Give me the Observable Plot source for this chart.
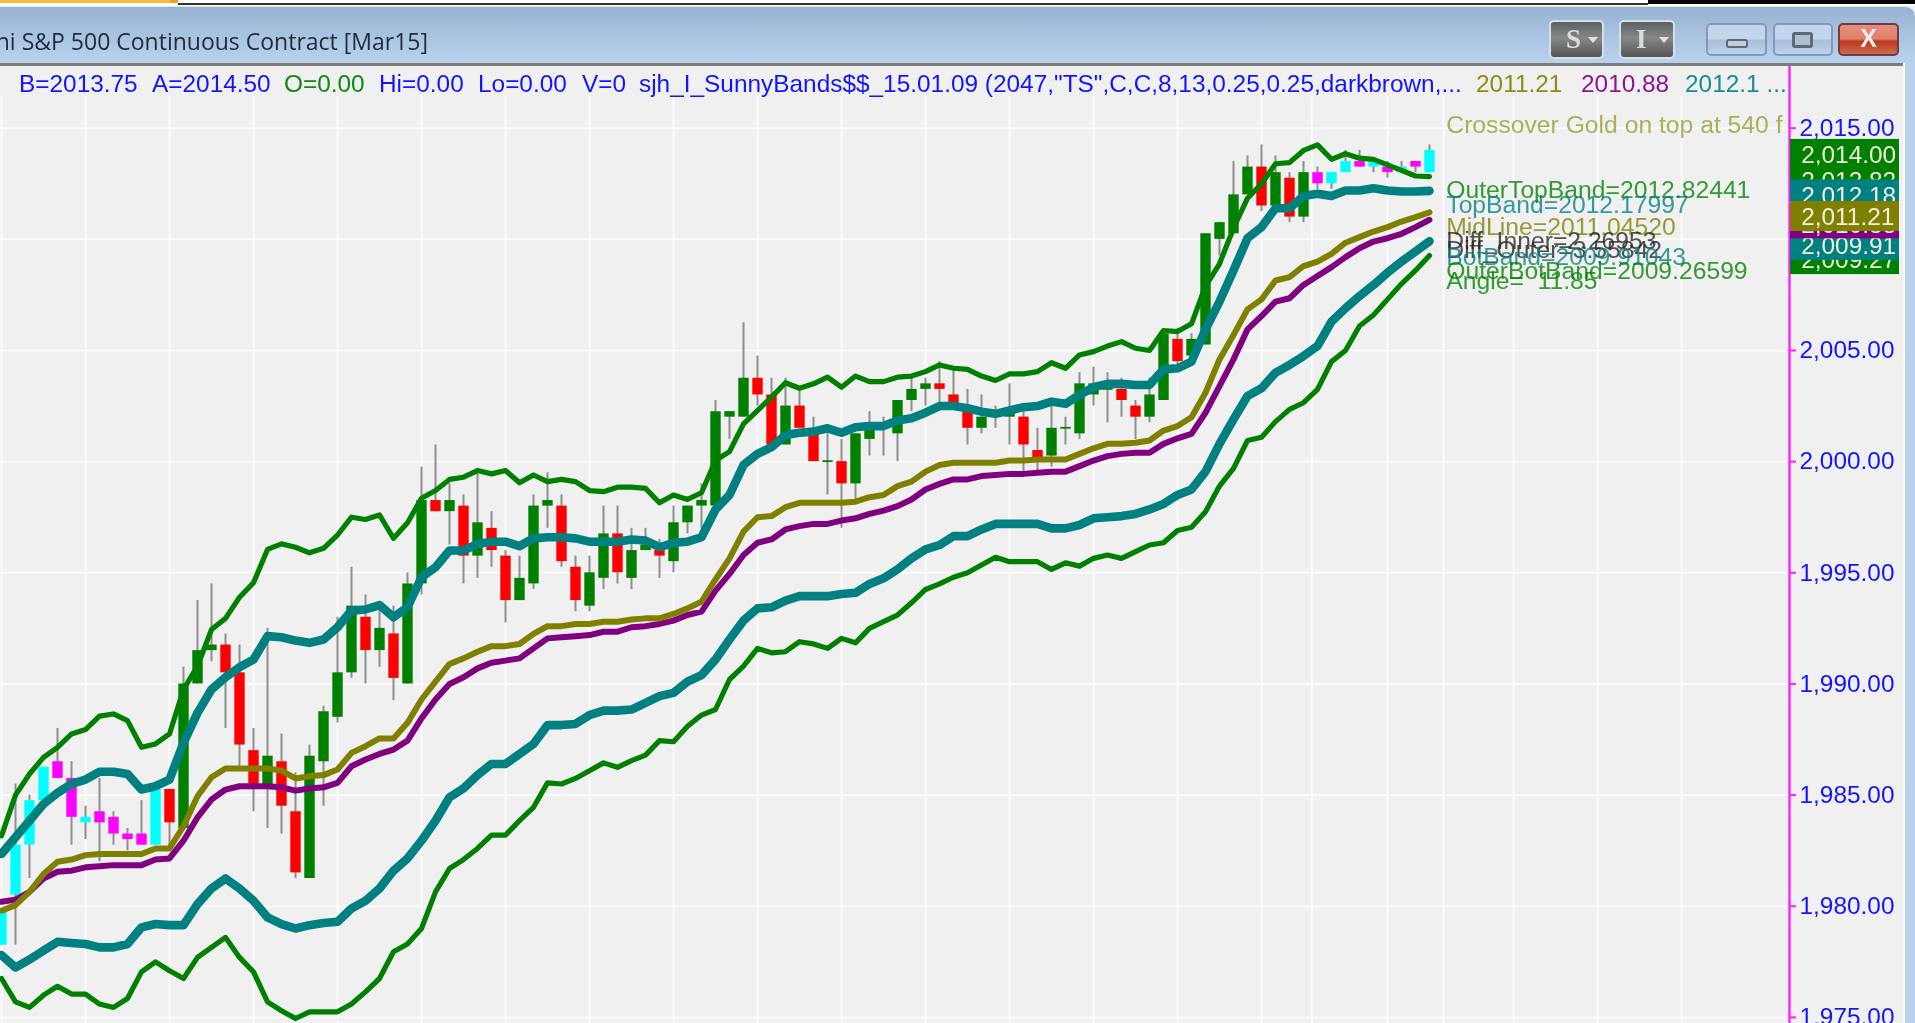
<!DOCTYPE html>
<html>
<head>
<meta charset="utf-8">
<script src="https://cdn.jsdelivr.net/npm/d3@7"></script>
<script src="https://cdn.jsdelivr.net/npm/@observablehq/plot@0.6"></script>
<style>
html,body{margin:0;padding:0;width:1915px;height:1023px;overflow:hidden;background:#f0f0f0;font-family:"Liberation Sans",Arial,sans-serif}
#stage{position:relative;width:1915px;height:1023px;overflow:hidden;filter:blur(.6px)}
#chart{position:absolute;left:0;top:0}
.abs{position:absolute}
#titlebar{position:absolute;left:0;top:6px;width:1915px;height:57px;background:linear-gradient(#98b3d2,#b9d3ed);border-top:1px solid #dfe7ef;box-sizing:border-box;border-top-right-radius:10px}
#titletext{position:absolute;right:1487px;top:25px;white-space:nowrap;font:23px "Open Sans",sans-serif;color:#1d2b3a}
.hdr{position:absolute;top:70px;font-size:24.4px;line-height:28px;white-space:nowrap}
.btn{position:absolute;box-sizing:border-box;border-radius:5px}
.dark{top:20px;height:39px;border:2px solid #d5dfe9;background:linear-gradient(#5d6060,#858887 45%,#555857);color:#d9dcdc;font:bold 27px "Liberation Serif",serif;text-align:left;line-height:34px;padding-left:15px}
.tri{position:absolute;top:15px;width:0;height:0;border-left:5px solid transparent;border-right:5px solid transparent;border-top:6px solid #e0e2e2}
.win{top:23px;height:33px;border:2px solid #7f9abb;background:linear-gradient(#c3d6eb,#c3d6eb 48%,#a5bfda 52%,#bdd3ea)}
</style>
</head>
<body>
<div id="stage"><div id="chart"></div></div>
<script>
// Bar index of the vertical grid lines (the time axis)
const gridBars = [0,6,12,18,24,30,36,42,48,54,60,66,72,78,84,90,93.6,99,103,108,114,120];
const priceTicks = [2015,2010,2005,2000,1995,1990,1985,1980,1975];

// Candles, one entry per bar
const bodyTop = [1979.75,1982.75,1984.75,1986.25,1986.5,1985.75,1984,1984.25,1984,1983.25,1983.25,1985.25,1985.25,1990,1991.5,1991.75,1991.75,1990.5,1987,1986.75,1986.5,1984.25,1986.75,1988.75,1990.5,1993.5,1993,1992.5,1992.25,1994.5,1998.25,1998.25,1998.25,1998,1997.25,1997,1995.75,1994.75,1998,1998.25,1998,1995.25,1995,1996.75,1996.75,1996,1996.25,1996,1997.25,1998,1998.25,2002.25,2002.25,2003.75,2003.75,2003,2002.5,2002.5,2001.25,2000.04,2000,2001.25,2001.5,2001.64,2002.75,2003.25,2003.5,2003.5,2003,2002.25,2002,2002.25,2002.25,2002,2000.5,2001.5,2001.54,2003.5,2003.5,2003.29,2003.25,2002.5,2003,2005.75,2005.5,2005.5,2010.25,2010.75,2012,2013.25,2013.25,2013,2012.75,2013,2013,2013,2013.5,2013.5,2013.5,2013.25,2013.25,2013.5,2014];
const bodyBottom = [1978.25,1980.5,1982.75,1984.75,1985.75,1984,1983.75,1983.75,1983.25,1983,1982.75,1982.75,1983.75,1983.5,1990,1991.5,1990.5,1987.25,1985.25,1985.25,1984.5,1981.5,1981.25,1986.5,1988.5,1990.5,1991.5,1991.5,1990.25,1990,1994.5,1997.75,1997.75,1995.75,1995.75,1996,1993.75,1993.75,1994.5,1998,1995.5,1993.75,1993.5,1994.75,1995,1994.75,1996,1995.75,1995.5,1997.25,1998,1998,2002,2002,2003,2000.75,2000.75,2001.5,2000,1999.96,1999,1999,2001,2001.56,2001.25,2002.75,2003.25,2003.25,2002.5,2001.5,2001.5,2002,2002,2000.75,2000,2000.25,2001.46,2001.25,2003,2003.21,2002.75,2002,2002,2002.75,2004.5,2004.75,2005.25,2010,2010.25,2012,2011.5,2011.5,2011,2011,2012.5,2012.5,2013,2013.25,2013.25,2013,2013,2013.25,2013];
const wickHigh = [1979.75,1985.5,1985,1986.25,1988,1986.5,1984.5,1985.75,1984.25,1983.5,1984.75,1985.25,1985.25,1990.75,1993.75,1994.5,1992.25,1991.75,1988,1992.5,1987.75,1986,1987.25,1989,1993,1995.25,1994,1993.5,1993.5,1995,1999.75,2000.75,1999,1998.5,1999.5,1997.75,1996,1995.75,1998.5,1999.5,1998.5,1995.75,1995.75,1998,1998,1997,1997,1996.5,1998,1998,1999,2002.75,2002.25,2006.25,2004.75,2003.75,2003.75,2003.25,2002,2001.25,2001,2001.25,2002.25,2002,2002.75,2003.75,2003.75,2004.5,2004.25,2003.25,2003,2002.5,2003.5,2002.25,2001.5,2002.5,2002,2004,2004.25,2004,2003.75,2002.75,2003.75,2005.75,2006,2005.75,2010.25,2010.75,2013.5,2013.75,2014.25,2013.75,2013,2013.5,2013.25,2013,2014,2014,2013.5,2013.5,2013.5,2013.5,2014.25];
const wickLow = [1978.25,1978.25,1981.25,1984.75,1985.75,1982.75,1983,1982,1982.75,1982.5,1982.75,1982.75,1982.5,1983.5,1990,1991,1988,1986.25,1984.25,1983.5,1983.25,1981.25,1981.25,1984.5,1988.25,1990.25,1990,1990.75,1989.25,1990,1994,1997.75,1996.25,1994.5,1994.75,1995.25,1992.75,1993.75,1994.25,1997,1995.25,1993.25,1993.25,1994.25,1994.5,1994.25,1996,1994.75,1995,1996.75,1997,1998,2001,2002,2002.5,2000.75,2000.75,2001.5,2000,1998.5,1997,1998.25,2000.25,2000.25,2000,2002.25,2002.5,2002.5,2002.5,2000.75,2001.25,2001.5,2000.75,1999.5,1999.5,1999.75,2000.75,2001,2002.5,2001.75,2002,2001,2001.75,2002.75,2004.25,2004.75,2005.25,2009.25,2010.25,2012,2011.25,2011.5,2010.75,2010.75,2012.25,2012.25,2013,2013.25,2013,2012.75,2013,2013,2013];
const candleKind = "cccc"+"mm"+"c"+"mmmm"+"c"+"r"+"ggg"+"rrr"+"g"+"rr"+"gggg"+"r"+"g"+"r"+"gg"+"r"+"g"+"r"+"g"+"rr"+"ggg"+"rr"+"gg"+"r"+"gg"+"r"+"gggggg"+"rr"+"g"+"rr"+"g"+"r"+"gggggg"+"rrr"+"ggg"+"rr"+"ggggg"+"rr"+"gg"+"r"+"ggggg"+"r"+"g"+"r"+"g"+"mccmcmcmc";

// Band lines, one entry per bar
const outerTopBand = [1983.17,1985,1985.95,1986.7,1987.15,1987.75,1987.95,1988.55,1988.65,1988.35,1987.15,1987.3,1987.75,1989.75,1990.8,1992.45,1992.95,1993.9,1994.55,1996.05,1996.3,1996.15,1995.9,1996.1,1996.7,1997.5,1997.4,1997.6,1996.55,1997.25,1998.35,1998.7,1999.2,1999.3,1999.6,1999.45,1999.6,1999.05,1999.4,1999.1,1999.2,1999.1,1998.7,1998.65,1998.85,1998.85,1998.8,1998.15,1998.5,1998.3,1998.6,2000.05,2000.45,2001.7,2002.3,2002.9,2003.55,2003.3,2003.5,2003.8,2003.35,2003.85,2003.6,2003.6,2003.8,2003.85,2004.05,2004.35,2004.2,2004.15,2003.85,2003.65,2003.95,2003.95,2004.05,2004.45,2004.2,2004.8,2004.95,2005.2,2005.4,2005.1,2005,2005.9,2005.85,2006.2,2007.9,2008.9,2010.5,2011.85,2012.5,2013.4,2013.45,2014,2014.25,2013.6,2013.85,2013.65,2013.6,2013.35,2013.1,2012.85,2012.82];
const topBand = [1982.35,1983.1,1983.85,1984.6,1985.1,1985.5,1985.7,1986.05,1986.05,1985.95,1985.25,1985.4,1985.7,1987.35,1988.7,1989.75,1990.3,1990.75,1991.1,1992.15,1992.1,1991.95,1991.85,1992,1992.55,1993.3,1993.35,1993.55,1993,1993.45,1994.8,1995.25,1996,1996,1996.3,1996.4,1996.4,1996.2,1996.55,1996.6,1996.6,1996.55,1996.4,1996.4,1996.4,1996.5,1996.45,1996.15,1996.35,1996.4,1996.6,1997.85,1998.5,1999.85,2000.35,2000.65,2001.2,2001.3,2001.35,2001.5,2001.3,2001.55,2001.6,2001.6,2001.85,2001.95,2002.2,2002.5,2002.5,2002.4,2002.25,2002.15,2002.3,2002.45,2002.5,2002.7,2002.6,2003,2003.35,2003.5,2003.5,2003.45,2003.45,2004.15,2004.2,2004.5,2005.95,2007.2,2008.6,2010.05,2010.55,2011.4,2011.4,2011.95,2012.05,2011.95,2012.2,2012.2,2012.3,2012.2,2012.15,2012.15,2012.18];
const midLine = [1979.8,1980.05,1980.65,1981.45,1982,1982.1,1982.3,1982.35,1982.35,1982.35,1982.35,1982.6,1982.6,1983.6,1984.95,1985.8,1986.2,1986.2,1986.2,1986.2,1986.1,1985.75,1985.85,1985.9,1986.15,1986.9,1987.2,1987.55,1987.55,1988.25,1989.3,1990.1,1990.9,1991.15,1991.45,1991.7,1991.7,1991.8,1992.25,1992.6,1992.6,1992.7,1992.7,1992.8,1992.8,1992.9,1992.95,1992.95,1993.15,1993.4,1993.7,1994.7,1995.65,1996.85,1997.5,1997.55,1997.95,1998.15,1998.15,1998.15,1998.15,1998.2,1998.4,1998.5,1998.9,1999.1,1999.55,1999.85,1999.95,1999.95,1999.95,1999.95,2000.05,2000.05,2000.1,2000.1,2000.1,2000.35,2000.6,2000.8,2000.8,2000.85,2000.95,2001.4,2001.6,2002,2003.1,2004.6,2005.7,2006.85,2007.3,2008.15,2008.3,2008.8,2009,2009.35,2009.85,2010.1,2010.35,2010.55,2010.8,2011,2011.21];
const lowerMidLine = [1980.2,1980.3,1980.65,1981.25,1981.55,1981.6,1981.75,1981.8,1981.85,1981.85,1981.85,1982.1,1982.15,1982.95,1984,1984.8,1985.25,1985.4,1985.4,1985.4,1985.35,1985.2,1985.3,1985.35,1985.55,1986.3,1986.6,1986.85,1987.05,1987.45,1988.45,1989.3,1990,1990.3,1990.7,1990.95,1991.05,1991.15,1991.6,1992.05,1992.1,1992.15,1992.2,1992.35,1992.35,1992.55,1992.6,1992.7,1992.85,1993.1,1993.25,1994.2,1994.95,1995.8,1996.35,1996.5,1996.95,1997.1,1997.2,1997.2,1997.35,1997.45,1997.65,1997.8,1998,1998.3,1998.75,1999,1999.2,1999.2,1999.35,1999.4,1999.45,1999.45,1999.5,1999.55,1999.55,1999.8,2000.05,2000.25,2000.35,2000.4,2000.4,2000.8,2001.05,2001.25,2002.2,2003.4,2004.6,2005.95,2006.55,2007.2,2007.35,2007.95,2008.35,2008.75,2009.2,2009.6,2009.9,2010.05,2010.25,2010.55,2010.88];
const botBand = [1977.8,1977.25,1977.6,1978,1978.4,1978.35,1978.3,1978.15,1978.15,1978.3,1979.05,1979.2,1979.15,1979.15,1980.1,1980.8,1981.25,1980.8,1980.25,1979.5,1979.2,1979,1979.15,1979.25,1979.3,1979.9,1980.25,1980.8,1981.6,1982.15,1982.95,1983.85,1984.9,1985.3,1985.9,1986.4,1986.4,1986.85,1987.3,1988.15,1988.15,1988.2,1988.6,1988.8,1988.8,1988.85,1989.15,1989.45,1989.6,1990.1,1990.4,1991.1,1992,1992.85,1993.4,1993.45,1993.75,1993.95,1993.95,1993.95,1994.05,1994.1,1994.5,1994.75,1995.15,1995.65,1996.05,1996.25,1996.65,1996.65,1996.95,1997.2,1997.2,1997.2,1997.2,1997,1997,1997.15,1997.45,1997.5,1997.55,1997.65,1997.85,1998.1,1998.5,1998.75,1999.55,2000.8,2001.9,2002.95,2003.3,2004,2004.35,2004.75,2005.2,2006.3,2006.9,2007.45,2007.95,2008.5,2009,2009.45,2009.91];
const outerBotBand = [1976.75,1975.7,1975.45,1976,1976.4,1976.05,1976.05,1975.6,1975.45,1975.85,1977.05,1977.5,1977.1,1976.75,1977.7,1978.15,1978.6,1977.7,1977.05,1975.7,1975.3,1974.95,1975.25,1975.25,1975.25,1975.6,1976.15,1976.75,1977.95,1978.3,1979,1980.65,1981.7,1982.1,1982.6,1983.2,1983.2,1983.85,1984.45,1985.55,1985.5,1985.75,1986.1,1986.45,1986.25,1986.55,1986.8,1987.45,1987.4,1988.1,1988.6,1988.85,1990.2,1990.8,1991.6,1991.4,1991.45,1991.9,1991.8,1991.6,1992.05,1991.85,1992.5,1992.8,1993.1,1993.65,1994.25,1994.5,1994.8,1995,1995.35,1995.7,1995.5,1995.5,1995.5,1995.15,1995.45,1995.3,1995.65,1995.8,1995.65,1995.95,1996.25,1996.35,1996.9,1997.05,1997.75,1998.9,1999.7,2000.95,2001.1,2001.8,2002.35,2002.65,2003.25,2004.5,2005,2006.1,2006.6,2007.3,2008,2008.6,2009.27];

// Last-value boxes on the price axis, in stacking order
const boxPrices = [2014,2012.82,2009.27,2012.18,2009.91,2010.88,2011.21];
const boxKinds = ["outer","outer","outer","band","band","lower","mid"];

// Study read-outs beside the last bar
const noteTexts = ["Crossover Gold on top at 540 f","OuterTopBand=2012.82441","TopBand=2012.17997","MidLine=2011.04520","Diff_Inner=2.26953","Diff_Outer=3.55842","BotBand=2009.91043","OuterBotBand=2009.26599","Angle=  11.85"];
const notePrices = [2015,2012.82441,2012.17997,2011.0452,2010,2010,2009.91043,2009.26599,2009];
const noteKinds = ["gold","outer","band","mid","diff","diff","band","outer","outer"];

// Header read-out
const headerTexts = ["B=2013.75","A=2014.50","O=0.00","Hi=0.00","Lo=0.00","V=0","sjh_I_SunnyBands$$_15.01.09 (2047,\"TS\",C,C,8,13,0.25,0.25,darkbrown,...","2011.21","2010.88","2012.1 ..."];
const headerLeft = [19,152,284,379,478,582,639,1476,1581,1685];
const headerColor = ["#1414ff","#1414ff","#118a11","#1414ff","#1414ff","#1414ff","#1414ff","#8c8c14","#8c148c","#148c8c"];

const colors = {outer:"#008000",band:"#008080",mid:"#808000",lower:"#800080",gold:"#9a9a30",diff:"#222222"};
const noteDy = [-3,14,14,11,2,11,16,15,20];

const bars = bodyTop.map((t,i)=>({i,top:t,bot:bodyBottom[i],high:wickHigh[i],low:wickLow[i],kind:candleKind[i]}));
const series = (vals)=>vals.map((v,i)=>({i,v}));
const bandLines = [
  [outerTopBand,colors.outer,5.2],
  [outerBotBand,colors.outer,5.2],
  [botBand,colors.band,8.6],
  [lowerMidLine,colors.lower,6],
  [midLine,colors.mid,6],
  [topBand,colors.band,8.6]
];
const yTop = 2020.744, yBottom = 1974.726, xLeft = -1/14, axisBar = 1788/14;
const boxLeft = 127.79, boxRight = 135.57;

const boxMarks = boxPrices.flatMap((p,k)=>[
  Plot.rect([p],{x1:boxLeft,x2:boxRight,y1:d=>d-0.855,y2:d=>d+0.495,fill:colors[boxKinds[k]]}),
  Plot.text([p],{x:128.55,y:d=>d,dy:5,text:d3.format(",.2f"),textAnchor:"start",fill:"#f1f2dc",fontSize:24.4})
]);
const noteMarks = noteTexts.map((t,k)=>Plot.text([t],{x:103.2,y:()=>notePrices[k],dy:noteDy[k],text:d=>d,textAnchor:"start",fill:colors[noteKinds[k]],fillOpacity:.78,fontSize:24.7}));

const plot = Plot.plot({
  width:1915,height:1023,marginTop:0,marginBottom:0,marginLeft:0,marginRight:126,
  style:{background:"#f0f0f0",fontFamily:"'Liberation Sans',Arial,sans-serif",overflow:"hidden"},
  x:{domain:[xLeft,axisBar],axis:null},
  y:{domain:[yBottom,yTop],axis:null},
  color:{type:"ordinal",domain:["g","r","c","m"],range:["#008000","#ff0000","#00ffff","#ff00ff"]},
  marks:[
    Plot.ruleY(priceTicks,{x1:xLeft,x2:axisBar,stroke:"#fbfbfb",strokeWidth:2}),
    Plot.ruleX(gridBars,{y1:2016.4,y2:yBottom,stroke:"#fbfbfb",strokeWidth:2}),
    Plot.ruleX(bars,{x:"i",y1:"low",y2:"high",stroke:"#8e8e8e",strokeWidth:2}),
    Plot.ruleX(bars,{x:"i",y1:"bot",y2:"top",stroke:"kind",strokeWidth:10.4}),
    ...bandLines.map(([vals,c,w])=>Plot.line(series(vals),{x:"i",y:"v",stroke:c,strokeWidth:w,strokeLinejoin:"round",strokeLinecap:"round"})),
    ...noteMarks,
    Plot.ruleX([axisBar],{y1:yBottom,y2:yTop,stroke:"#ff20ff",strokeWidth:2.4}),
    Plot.axisY({anchor:"right",ticks:priceTicks,tickFormat:d3.format(",.2f"),tickSize:6,tickPadding:4,stroke:"#ff20ff",fill:"#1414ff",fontSize:24.4,strokeWidth:2,label:null}),
    ...boxMarks
  ]
});
document.getElementById("chart").appendChild(plot);

// Window chrome and header text, above the plot
const stage = document.getElementById("stage");
function add(html){stage.insertAdjacentHTML("beforeend",html);}
add('<div class="abs" style="left:0;top:0;width:1915px;height:6px;background:#fff"></div>');
add('<div class="abs" style="left:0;top:0;width:170px;height:3px;background:#f5bf45"></div>');
add('<div class="abs" style="left:170px;top:0;width:8px;height:3px;background:#f59f28"></div>');
add('<div class="abs" style="left:178px;top:3px;width:1470px;height:1.5px;background:#333"></div>');
add('<div class="abs" style="left:1648px;top:0;width:267px;height:4px;background:#000"></div>');
add('<div id="titlebar"></div>');
add('<div id="titletext">ni S&amp;P 500 Continuous Contract [Mar15]</div>');
add('<div class="abs" style="left:0;top:63px;width:1903px;height:3px;background:#7c7c7c"></div>');
add('<div class="abs" style="left:1903px;top:63px;width:12px;height:960px;background:#b8d0ea;border-left:2px solid #fafafa;box-sizing:border-box"></div>');
add('<div class="btn dark" style="left:1549px;width:55px">S<span class="tri" style="left:37px"></span></div>');
add('<div class="btn dark" style="left:1619px;width:56px">I<span class="tri" style="left:38px"></span></div>');
add('<div class="btn win" style="left:1706px;width:61px"><span class="abs" style="left:18px;top:14px;width:22px;height:9px;background:#c7ced6;border:2px solid #5c6a7a;border-radius:3px;box-sizing:border-box"></span></div>');
add('<div class="btn win" style="left:1773px;width:60px"><span class="abs" style="left:17px;top:7px;width:21px;height:16px;background:#aebfd2;border:3px solid #5c6a7a;border-radius:3px;box-sizing:border-box"></span></div>');
add('<div class="btn" style="left:1838px;top:23px;width:61px;height:33px;border:2px solid #6e3a44;background:linear-gradient(#e88e7c,#df7f6e 48%,#bb3a1c 56%,#cc6a50);color:#eee;font:bold 25px \'Liberation Sans\';text-align:center;line-height:27px">X</div>');
headerTexts.forEach((t,k)=>{
  const s=document.createElement("div");s.className="hdr";s.textContent=t;
  s.style.left=headerLeft[k]+"px";s.style.color=headerColor[k];stage.appendChild(s);
});
</script>
</body>
</html>
